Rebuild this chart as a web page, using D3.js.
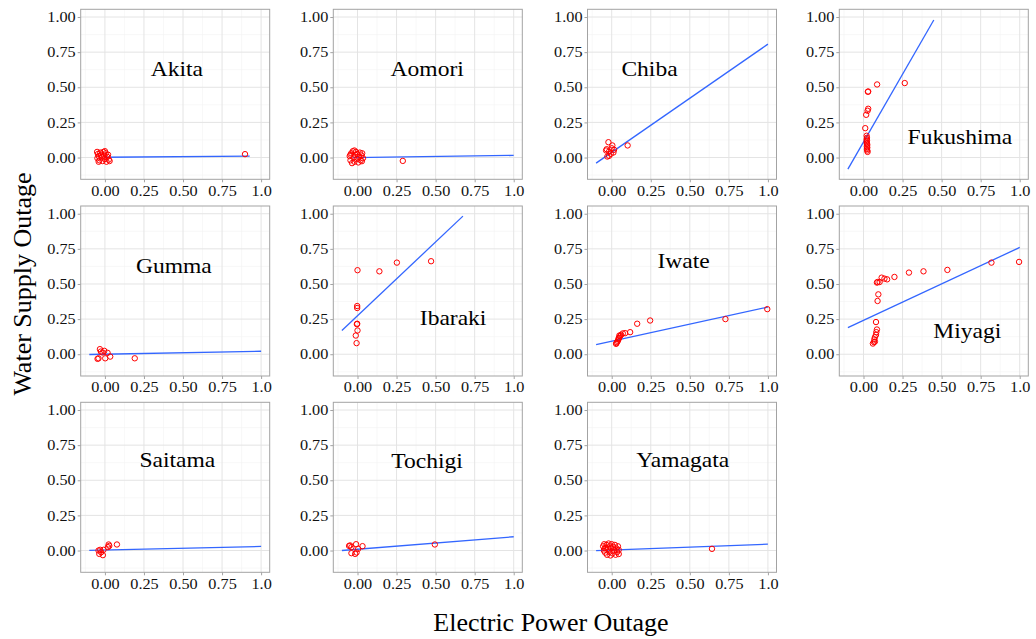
<!DOCTYPE html>
<html>
<head>
<meta charset="utf-8">
<script src="https://cdn.jsdelivr.net/npm/d3@7"></script>
<style>
  html, body { margin: 0; padding: 0; background: #fff; }
  svg { display: block; }
  text { font-family: "Liberation Serif", "Times New Roman", serif; }
</style>
</head>
<body>
<svg id="chart" width="1036" height="639"></svg>
<script>
// Prefectures, in panel order (row by row)
const prefectures = ["Akita", "Aomori", "Chiba", "Fukushima", "Gumma", "Ibaraki",
                     "Iwate", "Miyagi", "Saitama", "Tochigi", "Yamagata"];

// Observations per prefecture: [electric power outage, water supply outage]
const akita = [[-0.05,0.04],[-0.045,0.025],[-0.04,0.01],[-0.048,-0.005],[-0.035,-0.02],[-0.03,0.035],
  [-0.025,0.02],[-0.02,0.0],[-0.015,-0.025],[-0.01,0.04],[-0.005,0.015],[0.0,-0.01],[0.005,0.03],
  [0.01,-0.03],[0.015,0.005],[0.02,0.02],[0.025,-0.015],[0.03,-0.025],[-0.04,-0.03],[0.0,0.045],[0.897,0.024]];
const aomori = [[-0.05,0.01],[-0.045,-0.02],[-0.04,0.03],[-0.035,-0.04],[-0.03,0.045],[-0.025,0.0],
  [-0.02,-0.03],[-0.015,0.02],[-0.01,0.04],[-0.005,-0.01],[0.0,0.025],[0.005,-0.035],[0.01,0.005],
  [0.015,0.035],[0.02,-0.02],[0.025,0.015],[0.03,0.03],[0.035,-0.005],[-0.045,0.02],[-0.02,0.05],
  [0.028,-0.026],[0.29,-0.024]];
const chiba = [[-0.021,0.109],[0.102,0.086],[0.004,0.086],[-0.032,0.059],[-0.017,0.043],[0.015,0.055],
  [-0.028,0.007],[-0.006,0.026],[-0.036,0.05],[0.0,0.066],[0.011,0.036],[-0.017,0.012]];
const fukushima = [[0.087,0.52],[0.264,0.53],[0.028,0.468],[0.03,0.47],[0.03,0.347],[0.026,0.333],
  [0.017,0.304],[0.011,0.209],[0.02,0.155],[0.022,0.14],[0.02,0.13],[0.022,0.12],[0.02,0.11],
  [0.022,0.1],[0.024,0.09],[0.022,0.08],[0.024,0.07],[0.022,0.06],[0.024,0.05],[0.026,0.04]];
const gumma = [[-0.032,0.036],[-0.026,0.019],[-0.004,0.024],[0.017,0.01],[-0.047,-0.033],[-0.041,-0.029],
  [0.002,-0.029],[0.034,-0.017],[0.191,-0.029],[-0.015,0.012]];
const ibaraki = [[0.0,0.598],[0.14,0.59],[0.252,0.652],[0.471,0.662],[-0.002,0.343],[-0.002,0.329],
  [-0.002,0.217],[-0.004,0.214],[0.0,0.169],[-0.011,0.133],[-0.006,0.079]];
const iwate = [[0.996,0.321],[0.728,0.25],[0.246,0.24],[0.163,0.217],[0.118,0.157],[0.086,0.15],
  [0.071,0.148],[0.06,0.138],[0.054,0.129],[0.047,0.117],[0.043,0.105],[0.039,0.095],[0.034,0.086],
  [0.03,0.079],[0.028,0.074],[0.045,0.114],[0.049,0.133]];
const miyagi = [[0.996,0.657],[0.819,0.652],[0.537,0.6],[0.384,0.59],[0.291,0.581],[0.198,0.55],
  [0.151,0.533],[0.134,0.538],[0.116,0.545],[0.103,0.514],[0.09,0.514],[0.086,0.51],[0.095,0.426],
  [0.09,0.379],[0.08,0.229],[0.086,0.176],[0.082,0.157],[0.08,0.138],[0.073,0.121],[0.069,0.105],
  [0.067,0.086],[0.06,0.076],[0.073,0.09]];
const saitama = [[0.077,0.043],[0.024,0.043],[0.028,0.033],[0.019,0.024],[-0.03,0.005],[-0.024,-0.012],
  [-0.036,-0.024],[-0.013,-0.033],[-0.009,0.005],[-0.041,0.0]];
const tochigi = [[0.495,0.043],[0.032,0.031],[-0.009,0.045],[-0.047,0.036],[-0.039,0.024],[-0.039,-0.019],
  [-0.006,-0.014],[0.004,0.012],[-0.015,-0.024],[-0.054,0.033]];
const yamagata = [[-0.055,0.03],[-0.05,0.0],[-0.048,0.045],[-0.042,-0.015],[-0.038,0.02],[-0.033,0.04],
  [-0.03,-0.03],[-0.025,0.01],[-0.02,0.05],[-0.015,-0.01],[-0.012,0.03],[-0.008,-0.035],[-0.004,0.015],
  [0.0,0.045],[0.005,-0.02],[0.01,0.025],[0.015,0.0],[0.02,0.04],[0.025,-0.03],[0.03,0.015],
  [0.035,-0.01],[0.04,0.03],[0.045,-0.025],[0.045,0.005],[-0.045,0.015],[0.642,0.012]];
const observations = [akita, aomori, chiba, fukushima, gumma, ibaraki, iwate, miyagi, saitama, tochigi, yamagata];

// Linear fits: intercept, slope, and the x span each line covers
const fitIntercept = [0.002, 0.0, 0.037, 0.11, 0.0, 0.274, 0.093, 0.241, 0.003, 0.009, 0.004];
const fitSlope     = [0.009, 0.015, 0.77, 1.93, 0.021, 1.05, 0.243, 0.519, 0.026, 0.089, 0.041];
const fitFrom      = [0.0, -0.03, -0.1, -0.1, -0.1, -0.1, -0.1, -0.1, -0.1, -0.1, -0.1];
const fitTo        = [0.927, 1.0, 1.0, 0.45, 1.0, 0.675, 1.0, 1.0, 1.0, 1.0, 1.0];

// Where each prefecture name sits, in data units (centre x, baseline y)
const nameX = [0.46, 0.446, 0.242, 0.617, 0.441, 0.612, 0.46, 0.664, 0.464, 0.445, 0.454];
const nameY = [0.58, 0.58, 0.58, 0.098, 0.581, 0.205, 0.614, 0.114, 0.595, 0.59, 0.595];

// Axis breaks
const tickValues = [0, 0.25, 0.5, 0.75, 1];
const yTickLabels = ["0.00", "0.25", "0.50", "0.75", "1.00"];
const xTickLabels = ["0.00", "0.25", "0.50", "0.75", "1.0"];
const minorValues = [-0.125, 0.125, 0.375, 0.625, 0.875];

const svg = d3.select("#chart");
const colLeft = [80.7, 333.3, 587.5, 839.3];
const rowTop = [9.3, 206, 402.3];
const pw = 189, ph = 170;
const domain = [-0.155, 1.055];
const borderColor = "#a3a3a3";
const widen = 1.12;   // the serif face is set slightly wide

prefectures.forEach((name, i) => {
  const left = colLeft[i % 4], top = rowTop[Math.floor(i / 4)];
  const x = d3.scaleLinear().domain(domain).range([0, pw]);
  const y = d3.scaleLinear().domain(domain).range([ph, 0]);

  const g = svg.append("g").attr("transform", `translate(${left},${top})`);

  // minor grid
  g.selectAll(".mx").data(minorValues).join("line")
    .attr("x1", d => x(d)).attr("x2", d => x(d)).attr("y1", 0).attr("y2", ph)
    .attr("stroke", "#f3f3f3").attr("stroke-width", 0.6);
  g.selectAll(".my").data(minorValues).join("line")
    .attr("y1", d => y(d)).attr("y2", d => y(d)).attr("x1", 0).attr("x2", pw)
    .attr("stroke", "#f3f3f3").attr("stroke-width", 0.6);
  // major grid
  g.selectAll(".gx").data(tickValues).join("line")
    .attr("x1", d => x(d)).attr("x2", d => x(d)).attr("y1", 0).attr("y2", ph)
    .attr("stroke", "#e4e4e4").attr("stroke-width", 1);
  g.selectAll(".gy").data(tickValues).join("line")
    .attr("y1", d => y(d)).attr("y2", d => y(d)).attr("x1", 0).attr("x2", pw)
    .attr("stroke", "#e4e4e4").attr("stroke-width", 1);

  // axes
  const xAxis = g.append("g").attr("transform", `translate(0,${ph})`)
    .call(d3.axisBottom(x).tickValues(tickValues)
      .tickFormat(d => xTickLabels[tickValues.indexOf(d)]).tickSize(3).tickPadding(3));
  const yAxis = g.append("g")
    .call(d3.axisLeft(y).tickValues(tickValues)
      .tickFormat(d => yTickLabels[tickValues.indexOf(d)]).tickSize(3).tickPadding(2));
  [xAxis, yAxis].forEach(a => {
    a.attr("font-family", null).attr("font-size", null);
    a.select(".domain").remove();
    a.selectAll(".tick line").attr("stroke", borderColor);
    a.selectAll(".tick text").attr("fill", "#111")
      .style("font-size", "14.5px")
      .attr("transform", `scale(${widen},1)`);
  });
  // keep y labels right-aligned against their ticks after widening
  yAxis.selectAll(".tick text").attr("x", -5 / widen);

  // fitted line
  const a = fitIntercept[i], b = fitSlope[i];
  const seg = [fitFrom[i], fitTo[i]].map(v => [v, a + b * v]);
  g.append("path").datum(seg)
    .attr("d", d3.line().x(d => x(d[0])).y(d => y(d[1])))
    .attr("fill", "none").attr("stroke", "#3366FF").attr("stroke-width", 1.3);

  // observations
  g.selectAll(".pt").data(observations[i]).join("circle")
    .attr("cx", d => x(d[0])).attr("cy", d => y(d[1])).attr("r", 2.7)
    .attr("fill", "none").attr("stroke", "#FF0000").attr("stroke-width", 1);

  // panel border
  g.append("rect").attr("x", 0).attr("y", 0).attr("width", pw).attr("height", ph)
    .attr("fill", "none").attr("stroke", borderColor).attr("stroke-width", 1);

  // prefecture name
  g.append("text")
    .attr("transform", `translate(${x(nameX[i])},${y(nameY[i])}) scale(1.07,1)`)
    .attr("text-anchor", "middle").style("font-size", "22px").attr("fill", "#000")
    .text(name);
});

// axis titles
svg.append("text").attr("x", 551).attr("y", 631).attr("text-anchor", "middle")
  .style("font-size", "26px").attr("fill", "#000").text("Electric Power Outage");
svg.append("text").attr("transform", "translate(31,284) rotate(-90)").attr("text-anchor", "middle")
  .style("font-size", "26px").attr("fill", "#000").text("Water Supply Outage");
</script>
</body>
</html>
